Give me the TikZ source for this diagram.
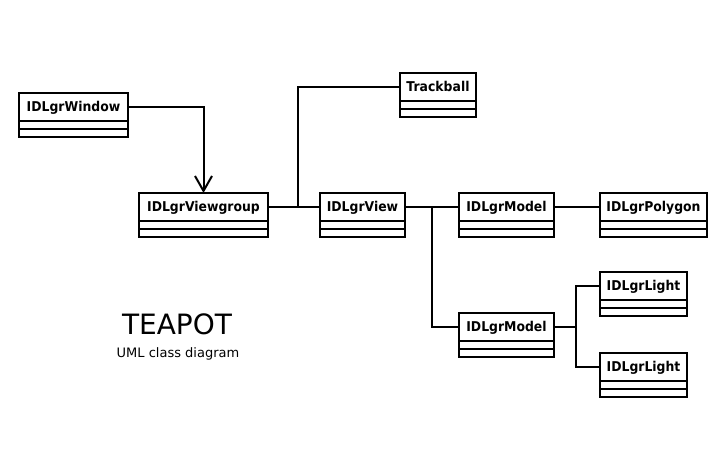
\documentclass[tikz,border=0pt]{standalone}
\usepackage{fontspec}
\setmainfont{DejaVu Sans}
\newfontfamily\lblfont[FakeStretch=0.92]{DejaVu Sans Bold}
\usetikzlibrary{arrows.meta,calc}
\tikzset{
  clsname/.style={draw, line width=2pt, inner sep=0pt, outer sep=0pt, minimum height=28pt,
    text height=9.8pt, text depth=0pt,
    anchor=north west, font=\lblfont\fontsize{13.5}{15}\selectfont},
  boxline/.style={line width=2pt},
  conn/.style={line width=2pt},
  openarrow/.style={-{Straight Barb[length=15pt,width=17pt,line width=2pt]}}
}
\newcommand{\classbox}[5]{%
  \node[clsname, minimum width=#4pt] (#1) at (#2,#3) {#5};
  \draw[boxline, line join=miter] (#1.south west) -- ++(0pt,-16pt) -- ++(#4pt,0pt) -- ++(0pt,16pt);
  \draw[boxline] ($(#1.south west)+(0pt,-8pt)$) -- ++(#4pt,0pt);
}
\begin{document}
\begin{tikzpicture}[x=1pt,y=-1pt]
\useasboundingbox[fill=white] (0,0) rectangle (722,460);
\classbox{win}{19}{93}{109}{IDLgrWindow}
\classbox{vg}{139}{193}{129}{IDLgrViewgroup}
\classbox{tb}{400}{73}{76}{Trackball}
\classbox{view}{320}{193}{85}{IDLgrView}
\classbox{mA}{459}{193}{95}{IDLgrModel}
\classbox{poly}{600}{193}{107}{IDLgrPolygon}
\classbox{mB}{459}{313}{95}{IDLgrModel}
\classbox{lA}{600}{272}{87}{IDLgrLight}
\classbox{lB}{600}{353}{87}{IDLgrLight}
\coordinate (j1) at (298,207);
\coordinate (j2) at (432,207);
\coordinate (j3) at (576,327);
\draw[conn,openarrow] (win.east) -| (vg.north);
\draw[conn] (vg.east) -- (view.west);
\draw[conn] (j1) |- (tb.west);
\draw[conn] (view.east) -- (mA.west);
\draw[conn] (j2) |- (mB.west);
\draw[conn] (mA.east) -- (poly.west);
\draw[conn] (mB.east) -- (j3);
\draw[conn] (j3) |- (lA.west);
\draw[conn] (j3) |- (lB.west);
\node[font=\fontsize{28}{32}\selectfont, inner sep=0pt] (title) at (177,324) {TEAPOT};
\node[font=\fontsize{13}{15}\selectfont, inner sep=0pt] (sub) at (178,354) {UML class diagram};
\end{tikzpicture}
\end{document}
